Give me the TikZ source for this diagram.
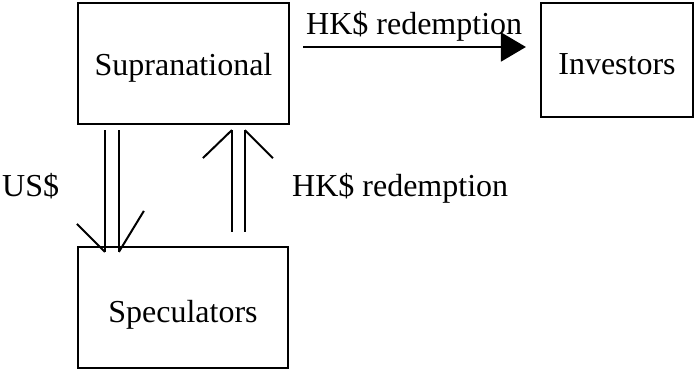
\documentclass[tikz,border=0pt]{standalone}
\usepackage{fontspec}
\setmainfont{Liberation Serif}
\usetikzlibrary{arrows.meta,calc}
\begin{document}
\begin{tikzpicture}[x=1pt,y=-1pt,
  box/.style={draw,line width=2.2pt,rectangle,inner sep=0pt,font=\fontsize{32}{38}\selectfont},
  lbl/.style={inner sep=0pt,anchor=base west,font=\fontsize{32}{38}\selectfont},
  conn/.style={line width=2pt}]
\useasboundingbox (0,0) rectangle (695,371);
\node[box,minimum width=211pt,minimum height=121pt] (sup) at (183.5,63.5) {};
\node[box,minimum width=152pt,minimum height=114pt] (inv) at (617,60) {};
\node[box,minimum width=210pt,minimum height=121pt] (spec) at (183,307.5) {};
\node[lbl,anchor=base] (tsup) at (183.5,76) {Supranational};
\node[lbl,anchor=base] (tinv) at (617,75) {Investors};
\node[lbl,anchor=base] (tspec) at (183,322) {Speculators};
% horizontal arrow
\coordinate (hs) at ($(sup.east)+(13,-16.5)$);
\coordinate (he) at ($(inv.west)+(-14,-13)$);
\draw[conn,-{Triangle[length=25pt,width=29pt]}] (hs) -- (he);
\node[lbl] (hk1) at (306,35) {HK\$ redemption};
% down double arrow (US$)
\coordinate (d1s) at ($(sup.south west)+(28,5)$);
\coordinate (d2s) at ($(sup.south west)+(42,5)$);
\coordinate (d1e) at ($(spec.north west)+(28,6)$);
\coordinate (d2e) at ($(spec.north west)+(42,6)$);
\draw[conn] (d1s) -- (d1e) (d2s) -- (d2e);
\draw[conn] ($(d1e)+(-28,-28)$) -- (d1e);
\draw[conn] ($(d2e)+(25,-41)$) -- (d2e);
\node[lbl] (us) at (2,197) {US\$};
% up double arrow (HK$ redemption)
\coordinate (u1s) at ($(spec.north west)+(155,-14)$);
\coordinate (u2s) at ($(spec.north west)+(168,-14)$);
\coordinate (u1e) at ($(sup.south west)+(155,5)$);
\coordinate (u2e) at ($(sup.south west)+(168,5)$);
\draw[conn] (u1s) -- (u1e) (u2s) -- (u2e);
\draw[conn] ($(u1e)+(-29,28)$) -- (u1e);
\draw[conn] ($(u2e)+(28,28)$) -- (u2e);
\node[lbl] (hk2) at (292,197) {HK\$ redemption};
\end{tikzpicture}
\end{document}
